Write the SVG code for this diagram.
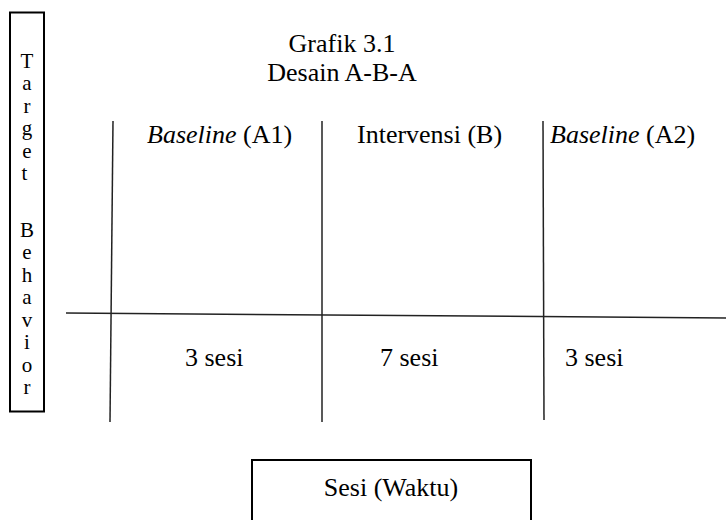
<svg xmlns="http://www.w3.org/2000/svg" width="726" height="520" viewBox="0 0 726 520">
<style>
text{font-family:"Liberation Serif","Times New Roman",serif;font-size:26px;fill:#000}
.v{font-size:21px}
.ln{stroke:#222;stroke-width:1.5;fill:none}
.box{stroke:#000;stroke-width:2;fill:#fff}
</style>
<rect width="726" height="520" fill="#fff"/>
<g id="y-axis-label">
<rect class="box" x="10" y="12.5" width="34" height="399"/>
<text class="v" text-anchor="middle">
<tspan x="27" y="68">T</tspan><tspan x="27" y="90">a</tspan><tspan x="27" y="113">r</tspan><tspan x="27" y="135">g</tspan><tspan x="27" y="158">e</tspan><tspan x="27" y="180">t</tspan>
<tspan x="27" y="237">B</tspan><tspan x="27" y="259">e</tspan><tspan x="27" y="282">h</tspan><tspan x="27" y="304">a</tspan><tspan x="27" y="327">v</tspan><tspan x="27" y="349">i</tspan><tspan x="27" y="372">o</tspan><tspan x="27" y="394">r</tspan>
</text>
</g>
<g id="title">
<text x="342" y="52" text-anchor="middle">Grafik 3.1</text>
<text x="342" y="81" text-anchor="middle">Desain A-B-A</text>
</g>
<g id="connectors">
<line class="ln" x1="113" y1="121" x2="110" y2="422"/>
<line class="ln" x1="322" y1="121" x2="322" y2="422"/>
<line class="ln" x1="543" y1="121" x2="544" y2="420"/>
<line class="ln" x1="66" y1="313" x2="726" y2="318"/>
</g>
<g id="phase-a1">
<text x="147" y="143"><tspan font-style="italic">Baseline</tspan> (A1)</text>
<text x="185" y="366">3 sesi</text>
</g>
<g id="phase-b">
<text x="357" y="143">Intervensi (B)</text>
<text x="380" y="366">7 sesi</text>
</g>
<g id="phase-a2">
<text x="550" y="143"><tspan font-style="italic">Baseline</tspan> (A2)</text>
<text x="565" y="366">3 sesi</text>
</g>
<g id="x-axis-label">
<rect class="box" x="252" y="460" width="279" height="80"/>
<text x="391" y="496" text-anchor="middle">Sesi (Waktu)</text>
</g>
</svg>
